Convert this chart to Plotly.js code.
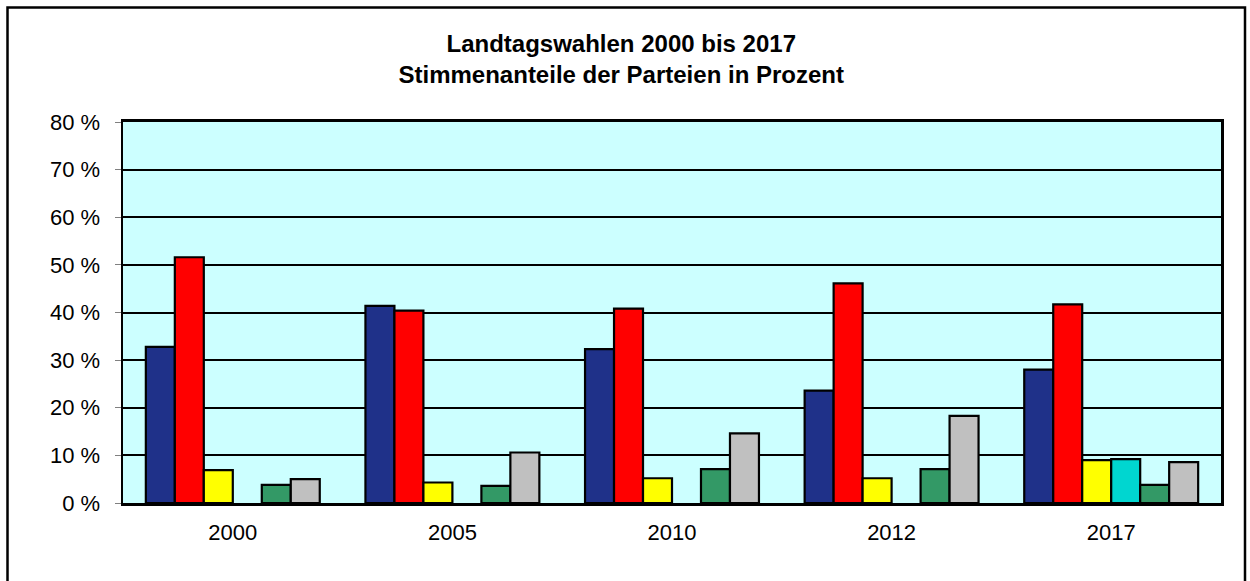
<!DOCTYPE html>
<html>
<head>
<meta charset="utf-8">
<script src="https://cdn.plot.ly/plotly-3.0.1.min.js"></script>
<style>
  html, body { margin: 0; padding: 0; background: #ffffff; }
  #chart { width: 1250px; height: 581px; }
</style>
</head>
<body>
<div id="chart"></div>
<script>
// Wahljahre (Kategorien)
const years = ["2000", "2005", "2010", "2012", "2017"];

// Stimmenanteile in Prozent je Partei
const cdu      = [32.8, 41.4, 32.3, 23.6, 28.0];
const spd      = [51.6, 40.4, 40.8, 46.1, 41.7];
const fdp      = [6.9, 4.3, 5.2, 5.2, 9.0];
const afd      = [null, null, null, null, 9.2];
const gruene   = [3.8, 3.6, 7.1, 7.1, 3.8];
const sonstige = [5.0, 10.6, 14.6, 18.3, 8.6];

const seriesNames = ["CDU", "SPD", "FDP", "AfD", "GRÜNE", "Sonstige"];
const seriesValues = [cdu, spd, fdp, afd, gruene, sonstige];
const seriesColors = ["#1F3189", "#FF0000", "#FFFF00", "#00D6D0", "#339966", "#C0C0C0"];

// y-Achse Beschriftung
const yTickVals = [0, 10, 20, 30, 40, 50, 60, 70, 80];
const yTickText = ["0 %", "10 %", "20 %", "30 %", "40 %", "50 %", "60 %", "70 %", "80 %"];

const traces = seriesNames.map((name, i) => ({
  type: "bar",
  name: name,
  x: years,
  y: seriesValues[i],
  marker: { color: seriesColors[i], line: { color: "#000000", width: 2.2 } },
  hoverinfo: "x+y+name"
}));

const L = 123, R = 29, T = 122, B = 78;
const W = 1250, H = 581;
const pw = W - L - R, ph = H - T - B;
function px2x(px) { return (px - L) / pw; }
function py2y(py) { return (H - B - py) / ph; }

const layout = {
  width: W,
  height: H,
  margin: { l: L, r: R, t: T, b: B, pad: 0 },
  paper_bgcolor: "#FFFFFF",
  plot_bgcolor: "#CCFFFF",
  showlegend: false,
  barmode: "group",
  bargap: 0.208,
  bargroupgap: 0,
  font: { family: "Liberation Sans, Arial, sans-serif", color: "#000000" },
  title: {
    text: "<b>Landtagswahlen 2000 bis 2017</b><br><b>Stimmenanteile der Parteien in Prozent</b>",
    font: { family: "Liberation Sans, Arial, sans-serif", size: 24, color: "#000000" },
    xref: "container",
    x: 0.497,
    xanchor: "center",
    yref: "container",
    y: 1 - 52 / H,
    yanchor: "top"
  },
  xaxis: {
    type: "category",
    showgrid: false,
    zeroline: false,
    showline: true,
    linecolor: "#000000",
    linewidth: 3,
    mirror: true,
    ticks: "",
    tickfont: { size: 22, color: "#000000" },
    ticklabelstandoff: 8
  },
  yaxis: {
    range: [0, 80],
    tickvals: yTickVals,
    ticktext: yTickText,
    showgrid: true,
    gridcolor: "#000000",
    gridwidth: 2,
    zeroline: false,
    showline: true,
    linecolor: "#000000",
    linewidth: 2.5,
    mirror: true,
    ticks: "outside",
    ticklen: 6,
    tickwidth: 1,
    tickcolor: "#808080",
    tickfont: { size: 22, color: "#000000" },
    ticklabelstandoff: 10
  },
  shapes: [
    {
      type: "rect",
      xref: "paper", yref: "paper",
      x0: px2x(7.5), x1: px2x(1245),
      y0: py2y(592), y1: py2y(7.5),
      line: { color: "#000000", width: 2.5 },
      fillcolor: "rgba(0,0,0,0)",
      layer: "below"
    }
  ]
};

Plotly.newPlot("chart", traces, layout, { displayModeBar: false, staticPlot: true });
</script>
</body>
</html>
